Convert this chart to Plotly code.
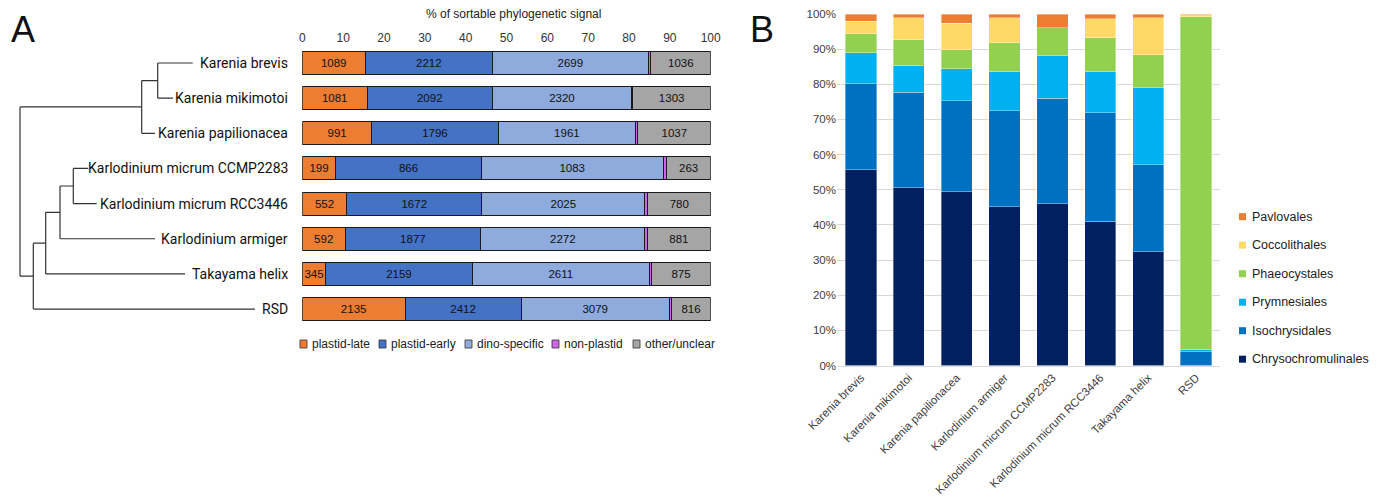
import plotly.graph_objects as go

# The page body adds an 8px margin; figure sized to fill the rest of the window.
OFF = 8
W, H = 1381 - OFF, 499 - OFF
def fx(px): return (px - OFF) / W
def fy(py): return 1 - (py - OFF) / H

# ---------------- Panel A data ----------------
taxa = ["Karenia brevis", "Karenia mikimotoi", "Karenia papilionacea",
        "Karlodinium micrum CCMP2283", "Karlodinium micrum RCC3446",
        "Karlodinium armiger", "Takayama helix", "RSD"]

plastid_late  = [1089, 1081, 991, 199, 552, 592, 345, 2135]
plastid_early = [2212, 2092, 1796, 866, 1672, 1877, 2159, 2412]
dino_specific = [2699, 2320, 1961, 1083, 2025, 2272, 2611, 3079]
non_plastid   = [50, 20, 30, 20, 35, 30, 30, 45]
other_unclear = [1036, 1303, 1037, 263, 780, 881, 875, 816]

cat_names_A = ["plastid-late", "plastid-early", "dino-specific", "non-plastid", "other/unclear"]
cat_colors_A = ["#ED7D31", "#4472C4", "#8FAADC", "#CC66E8", "#A5A5A5"]
cat_values_A = [plastid_late, plastid_early, dino_specific, non_plastid, other_unclear]
cat_labelled = [True, True, True, False, True]

# tree: (name, branch length, children)
tree = ("root", 0, [
    ("karenia", 121.7, [
        ("bm", 16, [("Karenia brevis", 35, []), ("Karenia mikimotoi", 15.3, [])]),
        ("Karenia papilionacea", 13.3, []),
    ]),
    ("others", 13.3, [
        ("kt", 12.4, [
            ("karlo", 14.3, [
                ("micrum", 13.3, [("Karlodinium micrum CCMP2283", 15, []),
                                  ("Karlodinium micrum RCC3446", 23.4, [])]),
                ("Karlodinium armiger", 95, []),
            ]),
            ("Takayama helix", 139.3, []),
        ]),
        ("RSD", 221.7, []),
    ]),
])

# ---------------- Panel B data ----------------
taxa_B = ["Karenia brevis", "Karenia mikimotoi", "Karenia papilionacea",
          "Karlodinium armiger", "Karlodinium micrum CCMP2283",
          "Karlodinium micrum RCC3446", "Takayama helix", "RSD"]
chrysochromulinales = [55.7, 50.6, 49.4, 45.1, 46.0, 41.1, 32.4, 0.0]
isochrysidales      = [24.5, 27.1, 25.9, 27.4, 30.0, 30.8, 24.7, 3.9]
prymnesiales        = [8.8, 7.6, 9.1, 11.1, 12.1, 11.7, 21.9, 0.6]
phaeocystales       = [5.4, 7.4, 5.4, 8.2, 8.0, 9.7, 9.4, 94.7]
coccolithales       = [3.6, 6.2, 7.6, 7.1, 0.0, 5.3, 10.5, 0.6]
pavlovales          = [2.0, 1.1, 2.6, 1.1, 3.9, 1.4, 1.1, 0.2]

ord_names = ["Chrysochromulinales", "Isochrysidales", "Prymnesiales",
             "Phaeocystales", "Coccolithales", "Pavlovales"]
ord_colors = ["#002060", "#0070C0", "#00B0F0", "#92D050", "#FFD966", "#ED7D31"]
ord_values = [chrysochromulinales, isochrysidales, prymnesiales,
              phaeocystales, coccolithales, pavlovales]

fig = go.Figure()

# ---------------- Tree ----------------
rows = {t: i for i, t in enumerate(taxa)}
seg_x, seg_y = [], []

def layout(node, x0):
    name, bl, kids = node
    x = x0 + bl
    if not kids:
        return x, rows[name]
    ys = []
    for k in kids:
        kx, ky = layout(k, x)
        seg_x.extend([x, kx, None]); seg_y.extend([ky, ky, None])
        ys.append(ky)
    seg_x.extend([x, x, None]); seg_y.extend([min(ys), max(ys), None])
    return x, (ys[0] + ys[-1]) / 2

layout(tree, 0)
fig.add_trace(go.Scatter(x=seg_x, y=seg_y, mode="lines", xaxis="x", yaxis="y",
                         line=dict(color="#333333", width=1.2), showlegend=False,
                         hoverinfo="skip"))

for t in taxa:
    fig.add_annotation(x=270, y=rows[t], xref="x", yref="y", text=t, showarrow=False,
                       xanchor="right", yanchor="middle",
                       font=dict(family="Roboto", size=14, color="#111111"))

# ---------------- Panel A bars ----------------
totals = [sum(v[i] for v in cat_values_A) for i in range(len(taxa))]
for name, col, vals, lab in zip(cat_names_A, cat_colors_A, cat_values_A, cat_labelled):
    pct = [v / t * 100 for v, t in zip(vals, totals)]
    fig.add_trace(go.Bar(
        x=pct, y=list(range(len(taxa))), orientation="h", name=name,
        xaxis="x2", yaxis="y", marker=dict(color=col, line=dict(color="#1a1a1a", width=1)),
        text=[str(v) for v in vals] if lab else None,
        textposition="inside" if lab else "none", insidetextanchor="middle",
        constraintext="none", showlegend=False,
        textfont=dict(family="Liberation Sans, Arial", size=11.5, color="#111111"),
        hoverinfo="skip"))

# ---------------- Panel B bars ----------------
for name, col, vals in zip(ord_names, ord_colors, ord_values):
    fig.add_trace(go.Bar(
        x=taxa_B, y=[v / 100 for v in vals], name=name, xaxis="x3", yaxis="y3",
        marker=dict(color=col, line=dict(color="rgba(255,255,255,0.45)", width=0.8)),
        showlegend=False, hoverinfo="skip"))

axfont = dict(family="Liberation Sans, Arial", size=12, color="#333333")

fig.update_layout(
    width=W, height=H, margin=dict(l=0, r=0, t=0, b=0, autoexpand=False),
    paper_bgcolor="white", plot_bgcolor="rgba(0,0,0,0)",
    barmode="stack", bargap=0.345,
    xaxis=dict(domain=[fx(0 + OFF), fx(300)], range=[-20 + OFF, 280], visible=False,
               automargin=False),
    yaxis=dict(domain=[fy(326.6), fy(45.43)], range=[7.5, -0.5], visible=False, automargin=False),
    xaxis2=dict(domain=[fx(302.3), fx(710.7)], range=[0, 100], anchor="y", side="top",
                tickvals=list(range(0, 101, 10)), showgrid=False, zeroline=False,
                showline=False, ticks="", tickfont=axfont, automargin=False),
    xaxis3=dict(domain=[fx(837), fx(1220)], anchor="y3", tickangle=-45,
                showgrid=False, showline=True, linecolor="#D9D9D9", linewidth=1,
                ticks="", automargin=False,
                tickfont=dict(family="Liberation Sans, Arial", size=11.5, color="#404040")),
    yaxis3=dict(domain=[fy(365.5), fy(14)], range=[0, 1], anchor="x3",
                tickformat=".0%", dtick=0.1, gridcolor="#D9D9D9", gridwidth=1,
                zeroline=False, showline=False, ticks="", automargin=False,
                tickfont=dict(family="Liberation Sans, Arial", size=11.5, color="#404040")),
    showlegend=False,
)

# ---------------- Legend A (swatch + label, tight spacing) ----------------
legA_x = [300, 379, 465, 552, 633]   # swatch left edges (screen px)
legA_y = 344
for name, col, x0 in zip(cat_names_A, cat_colors_A, legA_x):
    fig.add_shape(type="rect", xref="paper", yref="paper",
                  x0=fx(x0), x1=fx(x0 + 7), y0=fy(legA_y + 4), y1=fy(legA_y - 4),
                  fillcolor=col, line=dict(color="#333333", width=0.8))
    fig.add_annotation(x=fx(x0 + 10), y=fy(legA_y), xref="paper", yref="paper",
                       text=name, showarrow=False, xanchor="left", yanchor="middle",
                       font=dict(family="Liberation Sans, Arial", size=12, color="#222222"))

# ---------------- Legend B ----------------
legB_x = 1239
legB_top, legB_step = 216.7, 28.5
for k, (name, col) in enumerate(zip(ord_names[::-1], ord_colors[::-1])):
    yc = legB_top + k * legB_step
    fig.add_shape(type="rect", xref="paper", yref="paper",
                  x0=fx(legB_x), x1=fx(legB_x + 7), y0=fy(yc + 3.5), y1=fy(yc - 3.5),
                  fillcolor=col, line=dict(width=0))
    fig.add_annotation(x=fx(legB_x + 11), y=fy(yc), xref="paper", yref="paper",
                       text=name, showarrow=False, xanchor="left", yanchor="middle",
                       font=dict(family="Liberation Sans, Arial", size=12.5, color="#222222"))

fig.add_annotation(x=fx(513), y=fy(14), xref="paper", yref="paper",
                   text="% of sortable phylogenetic signal", showarrow=False,
                   xanchor="center", yanchor="middle",
                   font=dict(family="Liberation Sans, Arial", size=12, color="#222222"))
fig.add_annotation(x=fx(10), y=1, xref="paper", yref="paper", text="A",
                   showarrow=False, xanchor="left", yanchor="top", borderpad=0,
                   font=dict(family="Liberation Sans, Arial", size=36, color="#111111"))
fig.add_annotation(x=fx(749), y=1, xref="paper", yref="paper", text="B",
                   showarrow=False, xanchor="left", yanchor="top", borderpad=0,
                   font=dict(family="Liberation Sans, Arial", size=36, color="#111111"))

fig.write_html("out.html")
